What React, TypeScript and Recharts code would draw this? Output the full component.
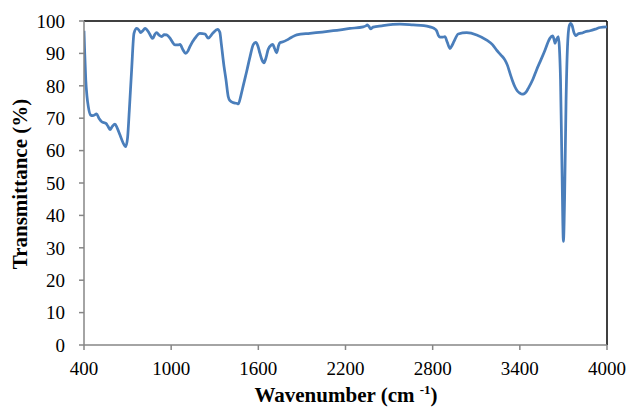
import React from "react";
import { LineChart, Line, XAxis, YAxis, ReferenceLine } from "recharts";

const wavenumbers: number[] = [
  400, 405, 412, 420, 430, 445, 460, 487, 505, 522, 551, 565, 579, 595, 613, 628, 648, 668, 687, 700,
  712, 728, 744, 763, 778, 790, 805, 820, 843, 860, 873, 887, 900, 918, 935, 952, 969, 992, 1010, 1026,
  1045, 1061, 1080, 1100, 1115, 1129, 1164, 1198, 1233, 1255, 1286, 1320, 1335, 1345, 1364, 1377, 1393, 1405, 1428, 1450,
  1462, 1480, 1497, 1520, 1543, 1565, 1582, 1597, 1611, 1625, 1639, 1652, 1668, 1690, 1699, 1712, 1726, 1740, 1749, 1770,
  1795, 1830, 1864, 1955, 2040, 2116, 2231, 2322, 2340, 2350, 2362, 2373, 2390, 2450, 2575, 2666, 2740, 2781, 2810, 2827,
  2840, 2850, 2870, 2884, 2900, 2919, 2935, 2946, 2976, 3034, 3103, 3172, 3210, 3240, 3270, 3297, 3315, 3332, 3350, 3366,
  3383, 3401, 3415, 3428, 3445, 3458, 3490, 3515, 3545, 3573, 3595, 3607, 3626, 3636, 3642, 3650, 3665, 3672, 3680, 3690,
  3700, 3708, 3718, 3728, 3740, 3750, 3760, 3772, 3785, 3800, 3814, 3830, 3850, 3883, 3920, 3952, 4000,
];

const transmittance: number[] = [
  97, 90, 82, 77, 73.5, 71, 70.8, 71.3, 69.8, 68.9, 68.4, 67.5, 66.5, 67.5, 68.2, 67, 64.8, 62.5, 61.2, 64,
  72.5, 85, 96.2, 97.7, 97.2, 96.4, 97, 97.7, 96.7, 95.3, 94.6, 95.8, 96.4, 95.6, 95.2, 95.8, 95.7, 94.7, 93.4, 92.6,
  92.6, 92.8, 91.2, 90.0, 90.7, 92.1, 94.7, 96.2, 96.0, 94.7, 96.2, 97.4, 96.5, 93, 85.9, 82, 76.6, 75.4, 74.8, 74.6,
  74.4, 77, 80.2, 84.5, 89, 92.7, 93.4, 92.3, 90, 88, 87.1, 88.5, 91.3, 92.6, 92.8, 91.5, 90.2, 92.5, 93.3, 93.6,
  94.1, 95.0, 95.7, 96.2, 96.6, 97.0, 97.7, 98.2, 98.5, 98.8, 98.3, 97.6, 98.1, 98.5, 99.0, 98.8, 98.6, 98.2, 97.7, 97.0,
  95.5, 95.0, 95.0, 95.2, 93.5, 91.5, 92.6, 93.6, 96.0, 96.4, 95.7, 94.1, 92.8, 91.0, 89.5, 88.0, 86.3, 83.9, 81.5, 79.7,
  78.4, 77.7, 77.4, 77.5, 78.2, 79.2, 82, 84.9, 88, 91.0, 93.6, 94.7, 95.4, 94.2, 93.1, 94, 95.2, 92, 82, 55,
  32, 45, 75, 92, 98.5, 99.3, 98.6, 96.5, 95.5, 96, 96.2, 96.3, 96.7, 97.0, 97.5, 98.0, 98.2,
];

const xTicks: number[] = [400, 1000, 1600, 2200, 2800, 3400, 4000];
const yTicks: number[] = [0, 10, 20, 30, 40, 50, 60, 70, 80, 90, 100];

const xTitle = "Wavenumber (cm ";
const xTitleSup = "-1";
const yTitle = "Transmittance (%)";

const data = wavenumbers.map((wn, i) => ({ wn, t: transmittance[i] }));

const FONT = "'Liberation Serif', 'Times New Roman', serif";
const AXIS_GRAY = "#868686";

export default function App() {
  return (
    <div style={{ position: "absolute", left: 0, top: 0, width: 630, height: 409, background: "#fff" }}>
      <LineChart width={630} height={409} data={data} margin={{ top: 21, right: 23, bottom: 0, left: 0 }}>
        <XAxis
          type="number"
          dataKey="wn"
          domain={[400, 4000]}
          ticks={xTicks}
          allowDataOverflow
          height={64}
          tickSize={5}
          tickMargin={12}
          stroke={AXIS_GRAY}
          axisLine={{ stroke: AXIS_GRAY, strokeWidth: 1.5 }}
          tickLine={{ stroke: AXIS_GRAY, strokeWidth: 1.5 }}
          tick={{ fill: "#000", fontSize: 19, fontFamily: FONT }}
          label={{
            content: () => (
              <text x={346} y={402} textAnchor="middle" fontFamily={FONT} fontSize={21} fontWeight="bold" fill="#000">
                {xTitle}
                <tspan dy={-8} fontSize={13}>{xTitleSup}</tspan>
                <tspan dy={8}>)</tspan>
              </text>
            ),
          }}
        />
        <YAxis
          type="number"
          domain={[0, 100]}
          ticks={yTicks}
          width={84}
          tickSize={5}
          tickMargin={14}
          stroke={AXIS_GRAY}
          axisLine={{ stroke: AXIS_GRAY, strokeWidth: 1.5 }}
          tickLine={{ stroke: AXIS_GRAY, strokeWidth: 1.5 }}
          tick={{ fill: "#000", fontSize: 19, fontFamily: FONT }}
          label={{
            content: () => (
              <text
                x={20}
                y={184}
                transform="rotate(-90, 20, 184)"
                textAnchor="middle"
                dominantBaseline="central"
                fontFamily={FONT}
                fontSize={21}
                fontWeight="bold"
                fill="#000"
              >
                {yTitle}
              </text>
            ),
          }}
        />
        <ReferenceLine y={100} stroke="#000" strokeWidth={1.5} />
        <ReferenceLine x={4000} stroke="#000" strokeWidth={1.5} />
        <Line
          type="monotone"
          dataKey="t"
          stroke="#4A7EBB"
          strokeWidth={2.75}
          dot={false}
          isAnimationActive={false}
        />
      </LineChart>
    </div>
  );
}
